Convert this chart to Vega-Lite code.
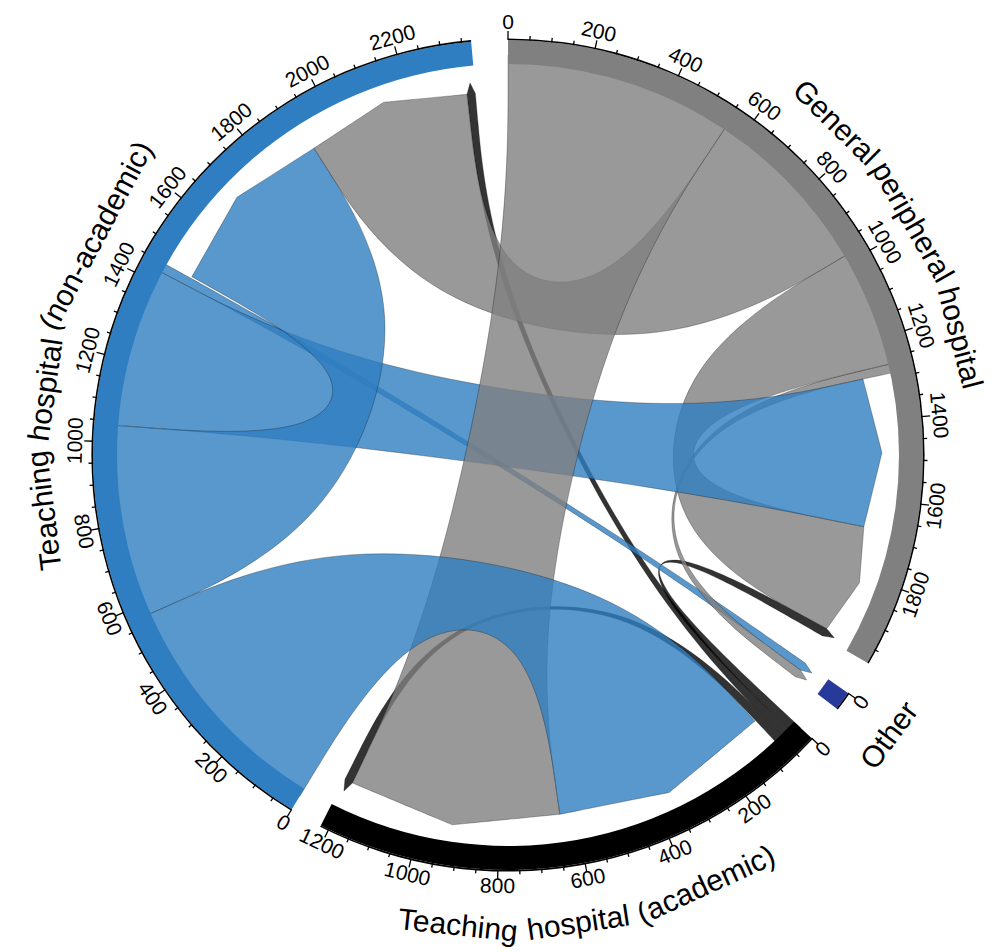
{
  "$schema": "https://vega.github.io/schema/vega-lite/v6.json",
  "width": 900,
  "height": 900,
  "autosize": {"type": "none"},
  "padding": {"left": 58, "top": 5, "right": 37, "bottom": 47},
  "background": "white",
  "config": {"view": {"stroke": null}, "text": {"font": "Liberation Sans"}},
  "datasets": {
    "links": [
      {"src": "Teaching hospital (academic)", "tgt": "Teaching hospital (academic)", "s0": 44, "s1": 66, "t0": 1196, "t1": 1218},
      {"src": "Teaching hospital (academic)", "tgt": "General peripheral hospital", "s0": 0, "s1": 22, "t0": 1960, "t1": 1982},
      {"src": "Teaching hospital (academic)", "tgt": "Teaching hospital (non-academic)", "s0": 22, "s1": 44, "t0": 2349, "t1": 2371},
      {"src": "Teaching hospital (non-academic)", "tgt": "Other", "s0": 1428, "s1": 1450, "t0": 0, "t1": 22},
      {"src": "General peripheral hospital", "tgt": "Other", "s0": 1266, "s1": 1288, "t0": 22, "t1": 44},
      {"src": "General peripheral hospital", "tgt": "General peripheral hospital", "s0": 982, "s1": 1266, "t0": 1676, "t1": 1960},
      {"src": "Teaching hospital (non-academic)", "tgt": "General peripheral hospital", "s0": 1040, "s1": 1428, "t0": 1288, "t1": 1676},
      {"src": "General peripheral hospital", "tgt": "Teaching hospital (non-academic)", "s0": 555, "s1": 982, "t0": 1922, "t1": 2349},
      {"src": "Teaching hospital (non-academic)", "tgt": "Teaching hospital (non-academic)", "s0": 573, "s1": 1040, "t0": 1455, "t1": 1922},
      {"src": "General peripheral hospital", "tgt": "Teaching hospital (academic)", "s0": 0, "s1": 555, "t0": 641, "t1": 1196},
      {"src": "Teaching hospital (non-academic)", "tgt": "Teaching hospital (academic)", "s0": 0, "s1": 573, "t0": 68, "t1": 641}
    ],
    "sectors": [
      {"g": "General peripheral hospital", "size": 1984},
      {"g": "Other", "size": 44},
      {"g": "Teaching hospital (academic)", "size": 1220},
      {"g": "Teaching hospital (non-academic)", "size": 2372}
    ],
    "ticks": [
      {"g": "General peripheral hospital", "v": [0,50,100,150,200,250,300,350,400,450,500,550,600,650,700,750,800,850,900,950,1000,1050,1100,1150,1200,1250,1300,1350,1400,1450,1500,1550,1600,1650,1700,1750,1800,1850,1900,1950]},
      {"g": "Other", "v": [0]},
      {"g": "Teaching hospital (academic)", "v": [0,50,100,150,200,250,300,350,400,450,500,550,600,650,700,750,800,850,900,950,1000,1050,1100,1150,1200]},
      {"g": "Teaching hospital (non-academic)", "v": [0,50,100,150,200,250,300,350,400,450,500,550,600,650,700,750,800,850,900,950,1000,1050,1100,1150,1200,1250,1300,1350,1400,1450,1500,1550,1600,1650,1700,1750,1800,1850,1900,1950,2000,2050,2100,2150,2200,2250,2300,2350]}
    ]
  },
  "layer": [
    {
      "data": {"name": "links"},
      "transform": [
        {"calculate": "[0,1,2,3,4,5,6,7,8,9,10,11,12,13,14,15,16,17,18,19,20,21,22]", "as": "k"},
        {"flatten": ["k"]},
        {"calculate": "datum.k <= 7 || datum.k >= 19 ? datum.src : datum.tgt", "as": "g"},
        {"calculate": "datum.k <= 2 ? datum.s0 : datum.k == 3 ? (datum.s0 + datum.s1) / 2 : datum.k <= 7 ? datum.s1 : datum.k <= 11 ? datum.t0 : datum.k <= 14 ? (datum.t0 + datum.t1) / 2 : datum.k <= 18 ? datum.t1 : datum.s0", "as": "p"},
        {"calculate": "datum.k == 7 || datum.k == 19 ? 191 : datum.k == 8 || datum.k == 18 ? 173.5 : datum.k >= 12 && datum.k <= 14 ? 374 : datum.k <= 6 || datum.k >= 20 ? 400 : 363", "as": "r"},
        {"calculate": "((datum.g === 'General peripheral hospital' ? 0 : datum.g === 'Other' ? 125 : datum.g === 'Teaching hospital (academic)' ? 133 : 211.4) + datum.p * 0.0605) * PI / 180", "as": "a"},
        {"calculate": "datum.r * sin(datum.a)", "as": "px"},
        {"calculate": "datum.r * cos(datum.a)", "as": "py"},
        {"calculate": "datum.src + ' to ' + datum.tgt", "as": "id"}
      ],
      "mark": {"type": "line", "interpolate": "basis", "stroke": "#000000", "strokeWidth": 0.5, "strokeOpacity": 0.55, "fillOpacity": 0.8},
      "encoding": {
        "x": {"field": "px", "type": "quantitative", "scale": {"domain": [-450, 450], "nice": false, "zero": false}, "axis": null},
        "y": {"field": "py", "type": "quantitative", "scale": {"domain": [-450, 450], "nice": false, "zero": false}, "axis": null},
        "fill": {"field": "src", "type": "nominal", "scale": {"domain": ["General peripheral hospital", "Other", "Teaching hospital (academic)", "Teaching hospital (non-academic)"], "range": ["#808080", "#27399A", "#000000", "#2F7EC1"]}, "legend": null},
        "detail": {"field": "id"},
        "order": {"field": "k", "type": "quantitative"}
      }
    },
    {
      "data": {"name": "sectors"},
      "transform": [
        {"calculate": "(datum.g === 'General peripheral hospital' ? 0 : datum.g === 'Other' ? 125 : datum.g === 'Teaching hospital (academic)' ? 133 : 211.4)", "as": "st"},
        {"calculate": "datum.st * PI / 180", "as": "a0"},
        {"calculate": "(datum.st + datum.size * 0.0605) * PI / 180", "as": "a1"}
      ],
      "mark": {"type": "arc", "innerRadius": 391, "outerRadius": 415},
      "encoding": {
        "theta": {"field": "a0", "type": "quantitative", "scale": null},
        "theta2": {"field": "a1"},
        "fill": {"field": "g", "type": "nominal", "scale": {"domain": ["General peripheral hospital", "Other", "Teaching hospital (academic)", "Teaching hospital (non-academic)"], "range": ["#808080", "#27399A", "#000000", "#2F7EC1"]}, "legend": null}
      }
    },
    {
      "data": {"name": "sectors"},
      "transform": [
        {"calculate": "(datum.g === 'General peripheral hospital' ? 0 : datum.g === 'Other' ? 125 : datum.g === 'Teaching hospital (academic)' ? 133 : 211.4)", "as": "st"},
        {"calculate": "datum.st * PI / 180", "as": "a0"},
        {"calculate": "(datum.st + datum.size * 0.0605) * PI / 180", "as": "a1"}
      ],
      "mark": {"type": "arc", "innerRadius": 415, "outerRadius": 416.6, "color": "#000000"},
      "encoding": {
        "theta": {"field": "a0", "type": "quantitative", "scale": null},
        "theta2": {"field": "a1"}
      }
    },
    {
      "data": {"name": "ticks"},
      "transform": [
        {"flatten": ["v"]},
        {"calculate": "((datum.g === 'General peripheral hospital' ? 0 : datum.g === 'Other' ? 125 : datum.g === 'Teaching hospital (academic)' ? 133 : 211.4) + datum.v * 0.0605) * PI / 180", "as": "a"},
        {"calculate": "datum.v % 200 == 0 ? 424 : 419.5", "as": "r2"},
        {"calculate": "415 * sin(datum.a)", "as": "x1"},
        {"calculate": "415 * cos(datum.a)", "as": "y1"},
        {"calculate": "datum.r2 * sin(datum.a)", "as": "x2"},
        {"calculate": "datum.r2 * cos(datum.a)", "as": "y2"}
      ],
      "mark": {"type": "rule", "color": "#000000", "strokeWidth": 1.3},
      "encoding": {
        "x": {"field": "x1", "type": "quantitative", "scale": {"domain": [-450, 450], "nice": false, "zero": false}, "axis": null},
        "y": {"field": "y1", "type": "quantitative", "scale": {"domain": [-450, 450], "nice": false, "zero": false}, "axis": null},
        "x2": {"field": "x2"},
        "y2": {"field": "y2"}
      }
    },
    {
      "data": {"name": "ticks"},
      "transform": [
        {"flatten": ["v"]},
        {"filter": "datum.v % 200 == 0"},
        {"calculate": "(datum.g === 'General peripheral hospital' ? 0 : datum.g === 'Other' ? 125 : datum.g === 'Teaching hospital (academic)' ? 133 : 211.4) + datum.v * 0.0605", "as": "th"},
        {"calculate": "datum.th > 180 ? datum.th - 360 : datum.th", "as": "nt"},
        {"calculate": "datum.nt > 90 ? datum.nt - 180 : datum.nt < -90 ? datum.nt + 180 : datum.nt", "as": "rot"},
        {"calculate": "432 * sin(datum.th * PI / 180)", "as": "lx"},
        {"calculate": "432 * cos(datum.th * PI / 180)", "as": "ly"}
      ],
      "mark": {"type": "text", "fontSize": 21, "align": "center", "baseline": "middle", "color": "#000000"},
      "encoding": {
        "x": {"field": "lx", "type": "quantitative", "scale": {"domain": [-450, 450], "nice": false, "zero": false}, "axis": null},
        "y": {"field": "ly", "type": "quantitative", "scale": {"domain": [-450, 450], "nice": false, "zero": false}, "axis": null},
        "text": {"field": "v", "type": "quantitative", "format": "d"},
        "angle": {"field": "rot", "type": "quantitative", "scale": null}
      }
    },
    {
      "data": {"name": "sectors"},
      "transform": [
        {"calculate": "split(datum.g, ' ')", "as": "w"},
        {"flatten": ["w"]},
        {"calculate": "length(datum.w)", "as": "len"},
        {"calculate": "datum.len - length(replace(datum.w, regexp('[il]', 'g'), ''))", "as": "nNarrow"},
        {"calculate": "datum.len - length(replace(datum.w, regexp('[tfr()-]', 'g'), ''))", "as": "nSemi"},
        {"calculate": "datum.len - length(replace(datum.w, regexp('[mwGO]', 'g'), ''))", "as": "nWide"},
        {"calculate": "30 * (0.54 * datum.len - 0.31 * datum.nNarrow - 0.24 * datum.nSemi + 0.25 * datum.nWide)", "as": "wpx"},
        {"calculate": "datum.wpx + 9", "as": "n1"},
        {"window": [{"op": "sum", "field": "n1", "as": "cum"}], "groupby": ["g"], "frame": [null, 0]},
        {"joinaggregate": [{"op": "sum", "field": "n1", "as": "tot"}], "groupby": ["g"]},
        {"calculate": "(datum.g === 'General peripheral hospital' ? 0 : datum.g === 'Other' ? 125 : datum.g === 'Teaching hospital (academic)' ? 133 : 211.4)", "as": "st"},
        {"calculate": "datum.st + datum.size * 0.0605 / 2", "as": "mid"},
        {"calculate": "datum.mid > 90 && datum.mid < 270", "as": "flip"},
        {"calculate": "datum.flip ? 474 : 466", "as": "lr"},
        {"calculate": "(datum.cum - 9 - datum.wpx / 2) - (datum.tot - 9) / 2", "as": "off"},
        {"calculate": "datum.mid + (datum.flip ? -1 : 1) * datum.off / datum.lr * 180 / PI", "as": "th"},
        {"calculate": "datum.flip ? datum.th - 180 : (datum.th > 180 ? datum.th - 360 : datum.th)", "as": "rot"},
        {"calculate": "datum.lr * sin(datum.th * PI / 180)", "as": "lx"},
        {"calculate": "datum.lr * cos(datum.th * PI / 180)", "as": "ly"}
      ],
      "mark": {"type": "text", "fontSize": 30, "align": "center", "baseline": "middle", "color": "#000000"},
      "encoding": {
        "x": {"field": "lx", "type": "quantitative", "scale": {"domain": [-450, 450], "nice": false, "zero": false}, "axis": null},
        "y": {"field": "ly", "type": "quantitative", "scale": {"domain": [-450, 450], "nice": false, "zero": false}, "axis": null},
        "text": {"field": "w"},
        "angle": {"field": "rot", "type": "quantitative", "scale": null}
      }
    }
  ]
}
